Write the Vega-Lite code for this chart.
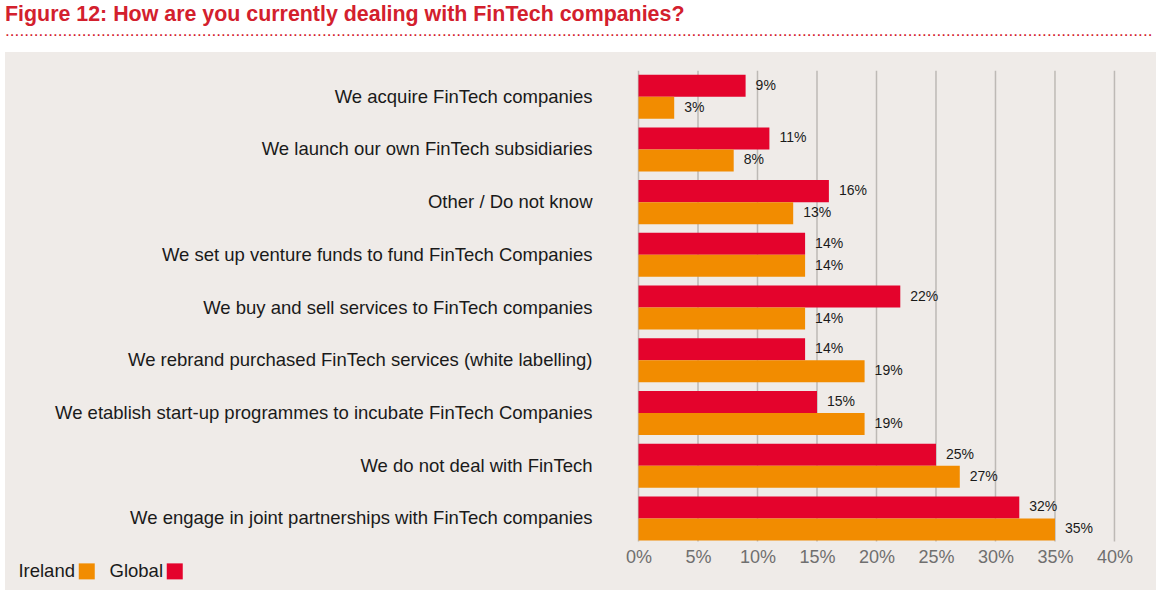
{
  "$schema": "https://vega.github.io/schema/vega-lite/v6.json",
  "autosize": {"type": "none"},
  "padding": {"left": 5, "top": 52, "right": 6, "bottom": 5},
  "width": 1151,
  "height": 538,
  "background": "white",
  "config": {
    "font": "Liberation Sans",
    "view": {"fill": "#efebe8", "stroke": null}
  },
  "title": {
    "text": "Figure 12: How are you currently dealing with FinTech companies?",
    "subtitle": "...............................................................................................................................................................................................................................................",
    "anchor": "start",
    "frame": "group",
    "font": "Liberation Sans",
    "fontWeight": "bold",
    "fontSize": 21.4,
    "color": "#d3202d",
    "subtitleFont": "Liberation Sans",
    "subtitleFontSize": 17.3,
    "subtitleColor": "#d3202d",
    "subtitlePadding": -4,
    "offset": 13
  },
  "data": {
    "values": [
      {"category": "We acquire FinTech companies", "series": "Global", "value": 0.09},
      {"category": "We acquire FinTech companies", "series": "Ireland", "value": 0.03},
      {"category": "We launch our own FinTech subsidiaries", "series": "Global", "value": 0.11},
      {"category": "We launch our own FinTech subsidiaries", "series": "Ireland", "value": 0.08},
      {"category": "Other / Do not know", "series": "Global", "value": 0.16},
      {"category": "Other / Do not know", "series": "Ireland", "value": 0.13},
      {"category": "We set up venture funds to fund FinTech Companies", "series": "Global", "value": 0.14},
      {"category": "We set up venture funds to fund FinTech Companies", "series": "Ireland", "value": 0.14},
      {"category": "We buy and sell services to FinTech companies", "series": "Global", "value": 0.22},
      {"category": "We buy and sell services to FinTech companies", "series": "Ireland", "value": 0.14},
      {"category": "We rebrand purchased FinTech services (white labelling)", "series": "Global", "value": 0.14},
      {"category": "We rebrand purchased FinTech services (white labelling)", "series": "Ireland", "value": 0.19},
      {"category": "We etablish start-up programmes to incubate FinTech Companies", "series": "Global", "value": 0.15},
      {"category": "We etablish start-up programmes to incubate FinTech Companies", "series": "Ireland", "value": 0.19},
      {"category": "We do not deal with FinTech", "series": "Global", "value": 0.25},
      {"category": "We do not deal with FinTech", "series": "Ireland", "value": 0.27},
      {"category": "We engage in joint partnerships with FinTech companies", "series": "Global", "value": 0.32},
      {"category": "We engage in joint partnerships with FinTech companies", "series": "Ireland", "value": 0.35}
    ]
  },
  "layer": [
    {
      "data": {"values": [{"tick": 0}, {"tick": 0.05}, {"tick": 0.1}, {"tick": 0.15}, {"tick": 0.2}, {"tick": 0.25}, {"tick": 0.3}, {"tick": 0.35}, {"tick": 0.4}]},
      "mark": {"type": "rule", "color": "#bdb9b5", "strokeWidth": 1.5, "yOffset": -4, "y2Offset": 1},
      "encoding": {
        "x": {"field": "tick", "type": "quantitative"},
        "y": {"datum": "We acquire FinTech companies", "type": "nominal", "bandPosition": 0},
        "y2": {"datum": "We engage in joint partnerships with FinTech companies", "bandPosition": 1}
      }
    },
    {
      "mark": {"type": "bar"},
      "encoding": {
        "y": {
          "field": "category",
          "type": "nominal",
          "sort": null,
          "scale": {
            "domain": [
              "We acquire FinTech companies",
              "We launch our own FinTech subsidiaries",
              "Other / Do not know",
              "We set up venture funds to fund FinTech Companies",
              "We buy and sell services to FinTech companies",
              "We rebrand purchased FinTech services (white labelling)",
              "We etablish start-up programmes to incubate FinTech Companies",
              "We do not deal with FinTech",
              "We engage in joint partnerships with FinTech companies"
            ],
            "paddingInner": 0.165,
            "paddingOuter": 0.685,
            "align": 0.314
          },
          "axis": {
            "orient": "left",
            "offset": -633.5,
            "labelPadding": 46.5,
            "domain": false,
            "ticks": false,
            "tickSize": 0,
            "grid": false,
            "title": null,
            "labelFont": "Liberation Sans",
            "labelFontSize": 18.5,
            "labelColor": "#1a1a1a",
            "labelLimit": 0
          }
        },
        "yOffset": {
          "field": "series",
          "type": "nominal",
          "sort": ["Global", "Ireland"],
          "scale": {"paddingInner": 0, "paddingOuter": 0}
        },
        "x": {
          "field": "value",
          "type": "quantitative",
          "scale": {"domain": [-0.5324, 0.4349], "nice": false, "zero": false},
          "axis": {
            "orient": "bottom",
            "values": [0, 0.05, 0.1, 0.15, 0.2, 0.25, 0.3, 0.35, 0.4],
            "format": ".0%",
            "offset": -42,
            "labelPadding": 0,
            "domain": false,
            "ticks": false,
            "tickSize": 0,
            "grid": false,
            "title": null,
            "labelFont": "Liberation Sans",
            "labelFontSize": 18,
            "labelColor": "#6f6f6f"
          }
        },
        "color": {
          "field": "series",
          "type": "nominal",
          "scale": {"domain": ["Global", "Ireland"], "range": ["#e4032c", "#f28c00"]},
          "legend": {
            "orient": "none",
            "legendX": 72.5,
            "legendY": 510,
            "values": ["Ireland", "Global"],
            "direction": "horizontal",
            "title": null,
            "symbolType": "square",
            "symbolSize": 256,
            "symbolStrokeWidth": 0,
            "labelFont": "Liberation Sans",
            "labelFontSize": 18.5,
            "labelColor": "#1a1a1a",
            "labelAlign": "right",
            "labelOffset": -21,
            "columnPadding": 14
          }
        }
      }
    },
    {
      "mark": {"type": "text", "align": "left", "baseline": "middle", "dx": 10, "fontSize": 14, "color": "#1a1a1a", "font": "Liberation Sans"},
      "encoding": {
        "y": {"field": "category", "type": "nominal", "sort": null},
        "yOffset": {"field": "series", "type": "nominal", "sort": ["Global", "Ireland"]},
        "x": {"field": "value", "type": "quantitative"},
        "text": {"field": "value", "type": "quantitative", "format": ".0%"}
      }
    }
  ]
}
